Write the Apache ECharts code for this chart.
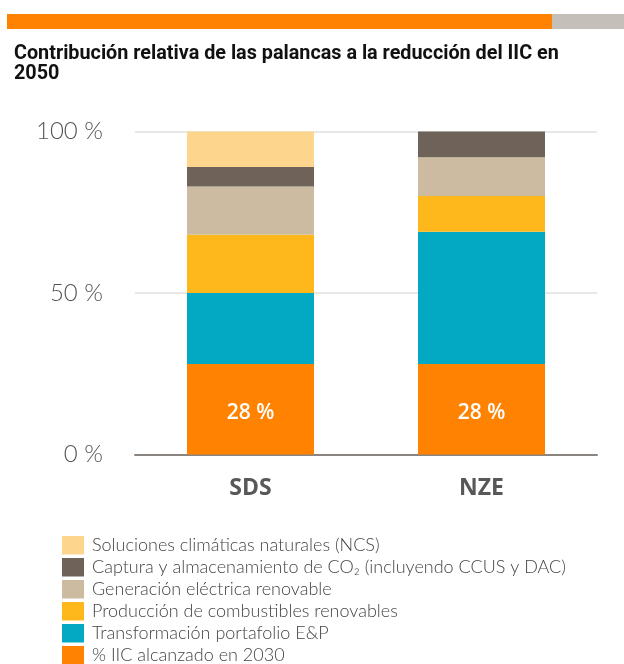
<!DOCTYPE html>
<html>
<head>
<meta charset="utf-8">
<script src="https://cdn.jsdelivr.net/npm/echarts@6/dist/echarts.min.js"></script>
<style>
  html, body { margin: 0; padding: 0; background: #fff; }
  #chart { width: 624px; height: 664px; }
</style>
</head>
<body>
<div id="chart"></div>
<script>
// Escenarios
const categories = ['SDS', 'NZE'];

// Contribución de cada palanca (%), de abajo hacia arriba
const iic2030 = [28, 28];
const transformacionEP = [22, 41];
const combustiblesRenovables = [18, 11];
const generacionRenovable = [15, 12];
const capturaCO2 = [6, 8];
const solucionesNCS = [11, 0];

const yTicks = [0, 50, 100];

const seriesDefs = [
  { name: '% IIC alcanzado en 2030', data: iic2030, color: '#ff8200', label: true },
  { name: 'Transformación portafolio E&P', data: transformacionEP, color: '#03a8c3' },
  { name: 'Producción de combustibles renovables', data: combustiblesRenovables, color: '#ffb81c' },
  { name: 'Generación eléctrica renovable', data: generacionRenovable, color: '#ccbba1' },
  { name: 'Captura y almacenamiento de CO₂ (incluyendo CCUS y DAC)', data: capturaCO2, color: '#6f6259' },
  { name: 'Soluciones climáticas naturales (NCS)', data: solucionesNCS, color: '#fdd58c' }
];

const chart = echarts.init(document.getElementById('chart'), null, { renderer: 'canvas' });

chart.setOption({
  animation: false,
  backgroundColor: '#fff',
  graphic: [
    { type: 'rect', shape: { x: 7, y: 14, width: 545, height: 15 }, style: { fill: '#ff8200' } },
    { type: 'rect', shape: { x: 552, y: 14, width: 72, height: 15 }, style: { fill: '#c4bfb8' } }
  ],
  title: {
    text: 'Contribución relativa de las palancas a la reducción del IIC en\n2050',
    left: 9,
    top: 39,
    textStyle: {
      fontFamily: 'Roboto',
      fontSize: 19.8,
      fontWeight: 'bold',
      color: '#111',
      lineHeight: 20
    }
  },
  legend: {
    orient: 'vertical',
    left: 57,
    top: 531,
    height: 300,
    itemWidth: 22,
    itemHeight: 18.5,
    itemGap: 3.5,
    icon: 'rect',
    data: seriesDefs.map(s => s.name).reverse(),
    textStyle: {
      fontFamily: 'Lato',
      fontSize: 18,
      fontWeight: 300,
      color: '#444',
      padding: [0, 0, 0, 3]
    }
  },
  grid: {
    left: 135,
    right: 27,
    top: 131.5,
    bottom: 209.5,
    containLabel: false
  },
  xAxis: {
    type: 'category',
    data: categories,
    axisLine: { show: true, lineStyle: { color: '#8a8580', width: 2 } },
    axisTick: { show: false },
    axisLabel: {
      margin: 22,
      fontFamily: 'Open Sans',
      fontSize: 23,
      fontWeight: 'bold',
      color: '#585858'
    }
  },
  yAxis: {
    type: 'value',
    min: yTicks[0],
    max: yTicks[yTicks.length - 1],
    interval: yTicks[1] - yTicks[0],
    axisLine: { show: false },
    axisTick: { show: false },
    splitLine: { lineStyle: { color: '#e8e8e8', width: 2 } },
    axisLabel: {
      margin: 32,
      formatter: '{value} %',
      fontFamily: 'Lato',
      fontSize: 24,
      fontWeight: 300,
      color: '#555'
    }
  },
  series: seriesDefs.map(s => ({
    name: s.name,
    type: 'bar',
    stack: 'total',
    barWidth: 127,
    data: s.data,
    itemStyle: { color: s.color },
    label: s.label ? {
      show: true,
      position: 'inside',
      formatter: '{c} %',
      color: '#fff',
      fontFamily: 'Open Sans',
      fontSize: 21,
      fontWeight: 600,
      offset: [0, 4]
    } : { show: false }
  }))
});
</script>
</body>
</html>
